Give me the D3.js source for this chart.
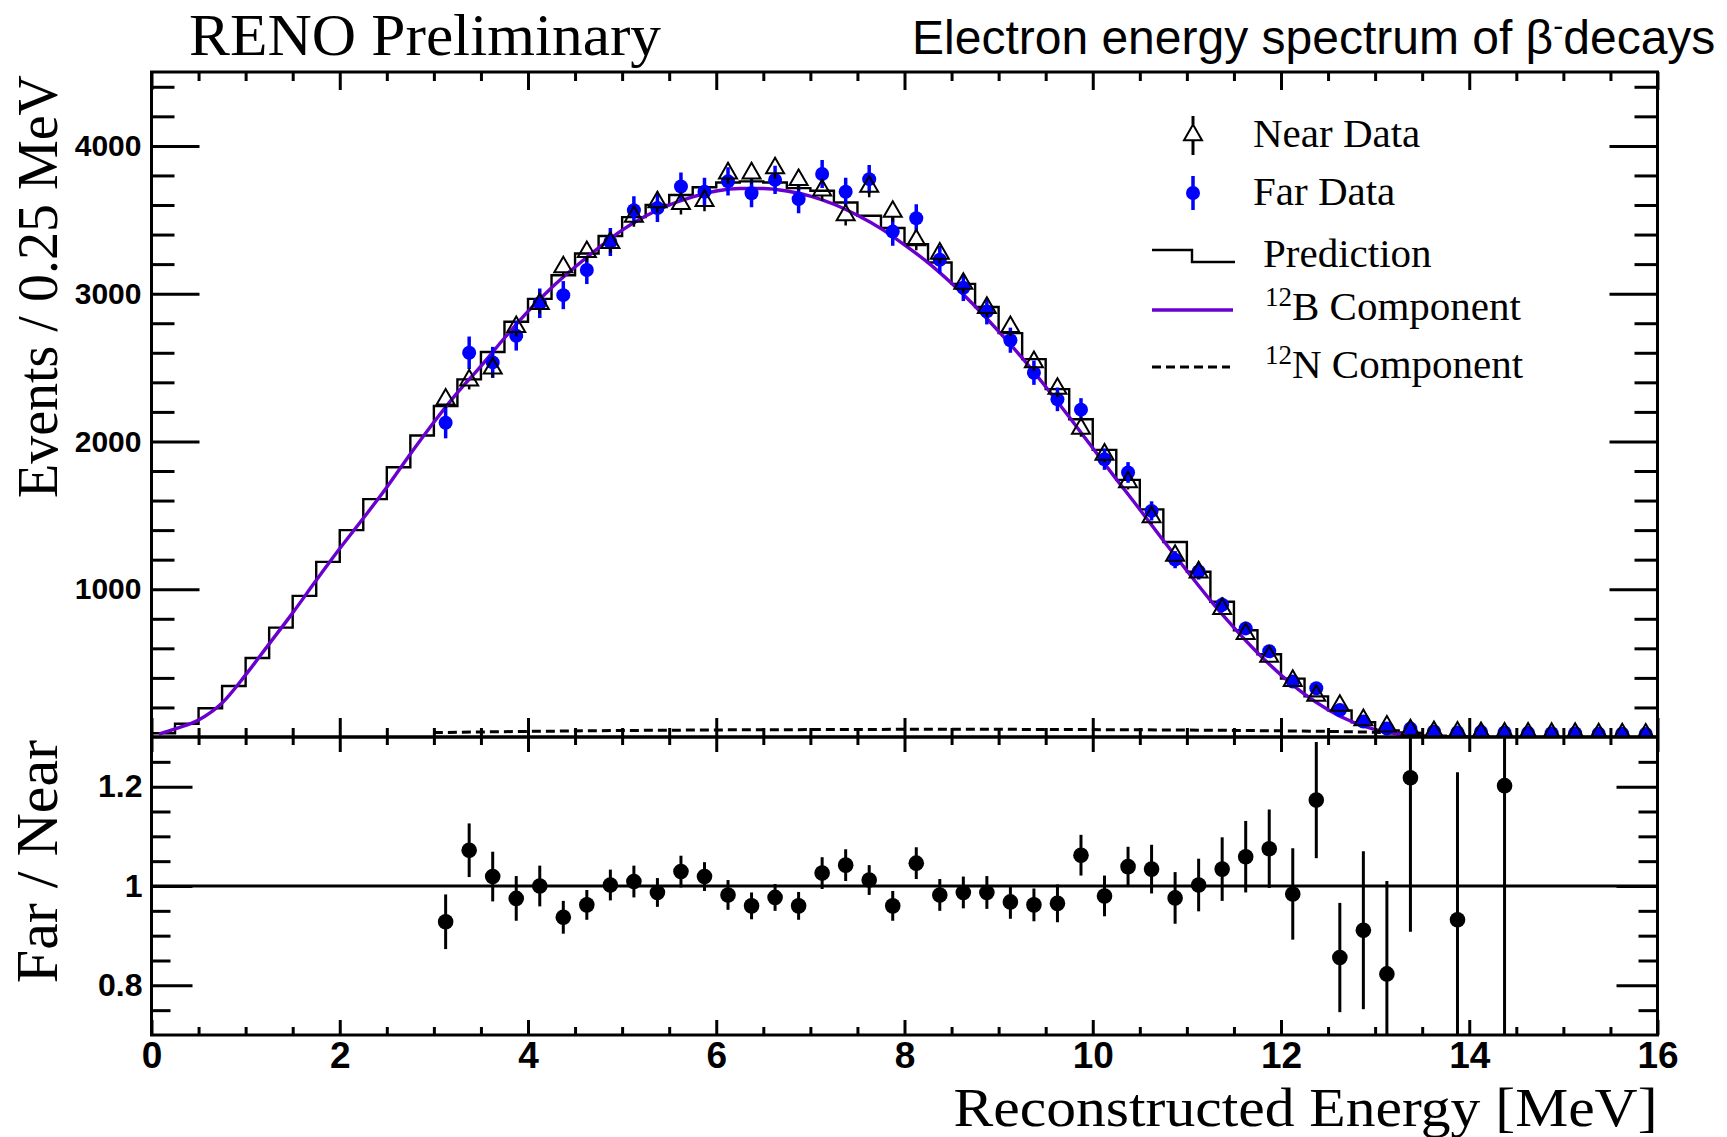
<!DOCTYPE html>
<html><head><meta charset="utf-8">
<script src="https://cdn.jsdelivr.net/npm/d3@7"></script>
<style>
body{margin:0;background:#fff;}
svg{display:block;background:#fff;}
</style></head><body>
<svg id="c" width="1727" height="1137"></svg>
<script>
// ---------------- DATA ----------------
const binWidth = 0.25; // MeV, prediction histogram bins from 0 to 16
const predValues = [25, 90, 195, 345, 535, 740, 955, 1185, 1400, 1610, 1825, 2040,
  2240, 2420, 2605, 2810, 2965, 3125, 3272, 3390, 3518, 3600, 3668, 3720,
  3752, 3760, 3752, 3714, 3696, 3617, 3527, 3444, 3335, 3211, 3066, 2910,
  2733, 2557, 2354, 2150, 1943, 1740, 1540, 1320, 1118, 915, 722, 560,
  395, 275, 180, 100, 45, 20, 8, 3, 1, 0, 0, 0, 0, 0, 0, 0];

const b12Energy = [0.08, 0.25, 0.5, 0.75, 1.0, 1.25, 1.5, 1.75, 2.0, 2.25, 2.5, 2.75, 3.0, 3.25, 3.5, 3.75,
  4.0, 4.25, 4.5, 4.75, 5.0, 5.25, 5.5, 5.75, 6.0, 6.25, 6.5, 6.75, 7.0, 7.25, 7.5, 7.75,
  8.0, 8.25, 8.5, 8.75, 9.0, 9.25, 9.5, 9.75, 10.0, 10.25, 10.5, 10.75, 11.0, 11.25, 11.5, 11.75,
  12.0, 12.25, 12.5, 12.75, 13.0, 13.25, 13.5, 13.75];
const b12Values = [20, 55, 115, 230, 420, 630, 840, 1060, 1275, 1480, 1690, 1915, 2130, 2330, 2510, 2700,
  2880, 3040, 3180, 3310, 3430, 3525, 3600, 3655, 3695, 3712, 3712, 3695, 3660, 3605, 3530, 3440,
  3330, 3210, 3070, 2915, 2745, 2565, 2370, 2165, 1955, 1745, 1540, 1330, 1125, 925, 740, 570,
  420, 290, 185, 105, 50, 20, 5, 0];

const n12Energy = [3.0, 4.0, 5.0, 6.0, 7.0, 8.0, 9.0, 10.0, 11.0, 12.0, 12.5, 13.0, 13.5];
const n12Values = [30, 38, 44, 48, 50, 52, 52, 50, 47, 42, 38, 32, 25];

const dataEnergy = [3.125, 3.375, 3.625, 3.875, 4.125, 4.375, 4.625, 4.875, 5.125, 5.375, 5.625, 5.875,
  6.125, 6.375, 6.625, 6.875, 7.125, 7.375, 7.625, 7.875, 8.125, 8.375, 8.625, 8.875,
  9.125, 9.375, 9.625, 9.875, 10.125, 10.375, 10.625, 10.875, 11.125, 11.375, 11.625, 11.875,
  12.125, 12.375, 12.625, 12.875, 13.125, 13.375, 13.625, 13.875, 14.125, 14.375, 14.625, 14.875,
  15.125, 15.375, 15.625, 15.875];
const nearValues = [2285, 2414, 2495, 2775, 2931, 3180, 3283, 3345, 3522, 3620, 3608, 3629,
  3815, 3815, 3850, 3770, 3700, 3532, 3725, 3555, 3362, 3272, 3068, 2905,
  2775, 2538, 2358, 2087, 1912, 1725, 1488, 1228, 1115, 867, 698, 544,
  381, 280, 212, 115, 72, 47, 35, 32, 28, 25, 25, 22,
  22, 20, 20, 18];
const nearErrors = [60, 62, 62, 64, 66, 68, 68, 70, 70, 72, 72, 72,
  72, 72, 72, 72, 72, 70, 72, 70, 68, 68, 66, 64,
  62, 60, 58, 55, 52, 50, 46, 42, 40, 36, 32, 28,
  24, 20, 18, 14, 10, 8, 7, 7, 6, 6, 6, 5,
  5, 5, 5, 5];
const farValues = [2126, 2600, 2535, 2715, 2935, 2990, 3160, 3350, 3565, 3580, 3725, 3690,
  3760, 3680, 3770, 3640, 3810, 3690, 3775, 3420, 3510, 3230, 3040, 2880,
  2685, 2465, 2285, 2215, 1880, 1790, 1530, 1200, 1120, 895, 735, 580,
  375, 330, 182, 105, 58, 57, 38, 30, 35, 30, 28, 25,
  25, 22, 22, 20];
const farErrors = [105, 110, 105, 100, 100, 95, 95, 95, 95, 95, 95, 95,
  95, 95, 95, 95, 95, 95, 95, 95, 95, 92, 90, 88,
  85, 82, 80, 78, 72, 70, 65, 58, 55, 50, 45, 40,
  33, 30, 24, 18, 14, 14, 12, 10, 11, 10, 10, 9,
  9, 8, 8, 8];

const ratioEnergy = [3.125, 3.375, 3.625, 3.875, 4.125, 4.375, 4.625, 4.875, 5.125, 5.375, 5.625, 5.875,
  6.125, 6.375, 6.625, 6.875, 7.125, 7.375, 7.625, 7.875, 8.125, 8.375, 8.625, 8.875,
  9.125, 9.375, 9.625, 9.875, 10.125, 10.375, 10.625, 10.875, 11.125, 11.375, 11.625, 11.875,
  12.125, 12.375, 12.625, 12.875, 13.125, 13.375, 13.875, 14.375];
const ratioValues = [0.928, 1.072, 1.019, 0.975, 1.000, 0.937, 0.962, 1.002, 1.009, 0.987, 1.029, 1.019,
  0.982, 0.960, 0.977, 0.960, 1.026, 1.042, 1.012, 0.960, 1.046, 0.982, 0.987, 0.987,
  0.968, 0.962, 0.965, 1.062, 0.980, 1.039, 1.034, 0.976, 1.002, 1.034, 1.059, 1.075,
  0.984, 1.173, 0.856, 0.911, 0.823, 1.218, 0.932, 1.202];
const ratioErrors = [0.055, 0.054, 0.050, 0.045, 0.041, 0.033, 0.030, 0.031, 0.032, 0.029, 0.032, 0.029,
  0.030, 0.027, 0.027, 0.028, 0.032, 0.032, 0.030, 0.030, 0.032, 0.032, 0.032, 0.033,
  0.034, 0.033, 0.038, 0.041, 0.041, 0.040, 0.049, 0.052, 0.053, 0.064, 0.072, 0.079,
  0.092, 0.117, 0.110, 0.159, 0.187, 0.310, 0.297, 0.600];

const xTickLabels = ["0", "2", "4", "6", "8", "10", "12", "14", "16"];
const yTopTickLabels = ["1000", "2000", "3000", "4000"];
const yBotTickLabels = ["0.8", "1", "1.2"];
const legendLabels = ["Near Data", "Far Data", "Prediction", "B Component", "N Component"];

// ---------------- LAYOUT ----------------
const L = 151.5, R = 1657.5, T = 72, M = 737, B = 1035;
const SERIF = "'Liberation Serif','Times New Roman',serif";
const SANS = "'Liberation Sans',Arial,sans-serif";
const PURPLE = "#6a00d0";
const BLUE = "#0000ff";

const svg = d3.select("#c");
const x = d3.scaleLinear().domain([0, 16]).range([L, R]);
const yT = d3.scaleLinear().domain([0, 4500]).range([M, T]);
const yB = d3.scaleLinear().domain([0.7, 1.3]).range([B, M]);

const defs = svg.append("defs");
defs.append("clipPath").attr("id", "clipTop").append("rect")
  .attr("x", L).attr("y", T).attr("width", R - L).attr("height", M - T);
defs.append("clipPath").attr("id", "clipBot").append("rect")
  .attr("x", L).attr("y", M).attr("width", R - L).attr("height", B - M);

// ---------------- TOP PANEL ----------------
const gTop = svg.append("g").attr("clip-path", "url(#clipTop)");

const predPts = predValues.map((v, i) => [i * binWidth, v]);
predPts.push([16, predValues[predValues.length - 1]]);
gTop.append("path")
  .attr("d", d3.line().x(d => x(d[0])).y(d => yT(d[1])).curve(d3.curveStepAfter)(predPts))
  .attr("fill", "none").attr("stroke", "#000").attr("stroke-width", 2.4);

gTop.append("path")
  .attr("d", d3.line().x((d, i) => x(n12Energy[i])).y(d => yT(d))(n12Values))
  .attr("fill", "none").attr("stroke", "#000").attr("stroke-width", 3)
  .attr("stroke-dasharray", "9,5");

gTop.append("path")
  .attr("d", d3.line().x((d, i) => x(b12Energy[i])).y(d => yT(d)).curve(d3.curveMonotoneX)(b12Values))
  .attr("fill", "none").attr("stroke", PURPLE).attr("stroke-width", 3.4);

// far data error bars + markers
gTop.selectAll("line.farErr").data(farValues).join("line").attr("class", "farErr")
  .attr("x1", (d, i) => x(dataEnergy[i])).attr("x2", (d, i) => x(dataEnergy[i]))
  .attr("y1", (d, i) => yT(d + farErrors[i])).attr("y2", (d, i) => yT(d - farErrors[i]))
  .attr("stroke", BLUE).attr("stroke-width", 3.5);
gTop.selectAll("circle.far").data(farValues).join("circle").attr("class", "far")
  .attr("cx", (d, i) => x(dataEnergy[i])).attr("cy", d => yT(d)).attr("r", 7)
  .attr("fill", BLUE);

// near data
const triSide = 18, triH = triSide * Math.sqrt(3) / 2;
const triArea = Math.sqrt(3) / 4 * triSide * triSide;
const triPath = d3.symbol().type(d3.symbolTriangle).size(triArea)();
nearValues.forEach((v, i) => {
  const cx = x(dataEnergy[i]), cy = yT(v);
  const top = yT(v + nearErrors[i]), bot = yT(v - nearErrors[i]);
  const apex = cy - triH * 2 / 3, base = cy + triH / 3;
  if (top < apex) gTop.append("line").attr("x1", cx).attr("x2", cx).attr("y1", top).attr("y2", apex)
    .attr("stroke", "#000").attr("stroke-width", 2.5);
  if (bot > base) gTop.append("line").attr("x1", cx).attr("x2", cx).attr("y1", base).attr("y2", bot)
    .attr("stroke", "#000").attr("stroke-width", 2.5);
});
gTop.selectAll("path.near").data(nearValues).join("path").attr("class", "near")
  .attr("d", triPath)
  .attr("transform", (d, i) => `translate(${x(dataEnergy[i])},${yT(d)})`)
  .attr("fill", "none").attr("stroke", "#000").attr("stroke-width", 2);

// ---------------- BOTTOM PANEL ----------------
const gBot = svg.append("g").attr("clip-path", "url(#clipBot)");
gBot.append("line").attr("x1", L).attr("x2", R).attr("y1", yB(1)).attr("y2", yB(1))
  .attr("stroke", "#000").attr("stroke-width", 3);
gBot.selectAll("line.rErr").data(ratioValues).join("line").attr("class", "rErr")
  .attr("x1", (d, i) => x(ratioEnergy[i])).attr("x2", (d, i) => x(ratioEnergy[i]))
  .attr("y1", (d, i) => yB(d + ratioErrors[i])).attr("y2", (d, i) => yB(d - ratioErrors[i]))
  .attr("stroke", "#000").attr("stroke-width", 3);
gBot.selectAll("circle.r").data(ratioValues).join("circle").attr("class", "r")
  .attr("cx", (d, i) => x(ratioEnergy[i])).attr("cy", d => yB(d)).attr("r", 7.8)
  .attr("fill", "#000");

// ---------------- AXES ----------------
function styleAxis(g, fontSize) {
  g.select(".domain").remove();
  g.selectAll(".tick line").attr("stroke", "#000").attr("stroke-width", 3);
  g.selectAll(".tick text").attr("fill", "#000").attr("font-family", SANS)
    .attr("font-weight", "bold").attr("font-size", fontSize);
}
function addAxis(axis, tx, ty, fontSize) {
  const g = svg.append("g").attr("transform", `translate(${tx},${ty})`).call(axis);
  styleAxis(g, fontSize || 10);
  return g;
}
const xMajor = xTickLabels.map(Number);
const xMinor = d3.range(0.5, 16, 0.5).filter(v => v % 2 !== 0);
const yTopMajor = yTopTickLabels.map(Number);
const yTopMinor = d3.range(200, 4500, 200).filter(v => v % 1000 !== 0);
const yBotMajor = yBotTickLabels.map(Number);
const yBotMinor = [0.75, 0.85, 0.9, 0.95, 1.05, 1.1, 1.15, 1.25];
const none = () => "";

// top panel
addAxis(d3.axisLeft(yT).tickValues(yTopMajor).tickSizeInner(-48).tickSizeOuter(0).tickPadding(10)
  .tickFormat((d, i) => yTopTickLabels[i]), L, 0, 30);
addAxis(d3.axisLeft(yT).tickValues(yTopMinor).tickSizeInner(-23).tickSizeOuter(0).tickFormat(none), L, 0);
addAxis(d3.axisRight(yT).tickValues(yTopMajor).tickSizeInner(-48).tickSizeOuter(0).tickFormat(none), R, 0);
addAxis(d3.axisRight(yT).tickValues(yTopMinor).tickSizeInner(-23).tickSizeOuter(0).tickFormat(none), R, 0);
addAxis(d3.axisTop(x).tickValues(xMajor).tickSizeInner(-18).tickSizeOuter(0).tickFormat(none), 0, T);
addAxis(d3.axisTop(x).tickValues(xMinor).tickSizeInner(-9).tickSizeOuter(0).tickFormat(none), 0, T);
addAxis(d3.axisBottom(x).tickValues(xMajor).tickSizeInner(-19).tickSizeOuter(0).tickFormat(none), 0, M);
addAxis(d3.axisBottom(x).tickValues(xMinor).tickSizeInner(-9).tickSizeOuter(0).tickFormat(none), 0, M);

// bottom panel
addAxis(d3.axisLeft(yB).tickValues(yBotMajor).tickSizeInner(-41).tickSizeOuter(0).tickPadding(9)
  .tickFormat((d, i) => yBotTickLabels[i]), L, 0, 32);
addAxis(d3.axisLeft(yB).tickValues(yBotMinor).tickSizeInner(-19).tickSizeOuter(0).tickFormat(none), L, 0);
addAxis(d3.axisRight(yB).tickValues(yBotMajor).tickSizeInner(-41).tickSizeOuter(0).tickFormat(none), R, 0);
addAxis(d3.axisRight(yB).tickValues(yBotMinor).tickSizeInner(-19).tickSizeOuter(0).tickFormat(none), R, 0);
addAxis(d3.axisTop(x).tickValues(xMajor).tickSizeInner(-15).tickSizeOuter(0).tickFormat(none), 0, M);
addAxis(d3.axisTop(x).tickValues(xMinor).tickSizeInner(-8).tickSizeOuter(0).tickFormat(none), 0, M);
addAxis(d3.axisBottom(x).tickValues(xMajor).tickSizeInner(-15).tickSizeOuter(0).tickPadding(7)
  .tickFormat((d, i) => xTickLabels[i]), 0, B, 37);
addAxis(d3.axisBottom(x).tickValues(xMinor).tickSizeInner(-8).tickSizeOuter(0).tickFormat(none), 0, B);

// frames
svg.append("rect").attr("x", L).attr("y", T).attr("width", R - L).attr("height", M - T)
  .attr("fill", "none").attr("stroke", "#000").attr("stroke-width", 3);
svg.append("rect").attr("x", L).attr("y", M).attr("width", R - L).attr("height", B - M)
  .attr("fill", "none").attr("stroke", "#000").attr("stroke-width", 3);

// ---------------- TEXTS ----------------
svg.append("text").attr("x", 189).attr("y", 55).attr("font-family", SERIF).attr("font-size", 59)
  .attr("textLength", 472).attr("lengthAdjust", "spacingAndGlyphs")
  .attr("fill", "#000").text("RENO Preliminary");

const title = svg.append("text").attr("x", 912).attr("y", 54).attr("font-family", SANS)
  .attr("font-size", 48).attr("fill", "#000");
title.append("tspan").text("Electron energy spectrum of β");
title.append("tspan").attr("font-size", 30).attr("dy", -18).text("-");
title.append("tspan").attr("dy", 18).text("decays");

svg.append("text").attr("transform", "translate(57,75) rotate(-90)").attr("text-anchor", "end")
  .attr("font-family", SERIF).attr("font-size", 56).attr("fill", "#000").text("Events / 0.25 MeV");
svg.append("text").attr("transform", "translate(57,740) rotate(-90)").attr("text-anchor", "end")
  .attr("font-family", SERIF).attr("font-size", 60).attr("fill", "#000").text("Far / Near");
svg.append("text").attr("x", R).attr("y", 1126).attr("text-anchor", "end")
  .attr("font-family", SERIF).attr("font-size", 55)
  .attr("textLength", 704).attr("lengthAdjust", "spacingAndGlyphs")
  .attr("fill", "#000").text("Reconstructed Energy [MeV]");

// ---------------- LEGEND ----------------
const lg = svg.append("g");
// near data
lg.append("line").attr("x1", 1193).attr("x2", 1193).attr("y1", 116).attr("y2", 135 - triH * 2 / 3)
  .attr("stroke", "#000").attr("stroke-width", 3);
lg.append("line").attr("x1", 1193).attr("x2", 1193).attr("y1", 135 + triH / 3).attr("y2", 155)
  .attr("stroke", "#000").attr("stroke-width", 3);
lg.append("path").attr("d", triPath).attr("transform", "translate(1193,135)")
  .attr("fill", "none").attr("stroke", "#000").attr("stroke-width", 2);
// far data
lg.append("line").attr("x1", 1193).attr("x2", 1193).attr("y1", 176).attr("y2", 210)
  .attr("stroke", BLUE).attr("stroke-width", 3.5);
lg.append("circle").attr("cx", 1193).attr("cy", 193).attr("r", 7).attr("fill", BLUE);
// prediction
lg.append("path").attr("d", "M1152,250 H1192 V262 H1235").attr("fill", "none")
  .attr("stroke", "#000").attr("stroke-width", 2.4);
// 12B
lg.append("line").attr("x1", 1152).attr("x2", 1233).attr("y1", 310).attr("y2", 310)
  .attr("stroke", PURPLE).attr("stroke-width", 3.4);
// 12N
lg.append("line").attr("x1", 1152).attr("x2", 1230).attr("y1", 367).attr("y2", 367)
  .attr("stroke", "#000").attr("stroke-width", 3).attr("stroke-dasharray", "9,5");

const lgText = (xx, yy) => lg.append("text").attr("x", xx).attr("y", yy)
  .attr("font-family", SERIF).attr("font-size", 41).attr("fill", "#000");
lgText(1253, 147).text(legendLabels[0]);
lgText(1253, 205).text(legendLabels[1]);
lgText(1263, 267).text(legendLabels[2]);
const tB = lgText(1265, 320);
tB.append("tspan").attr("font-size", 27).attr("dy", -14).text("12");
tB.append("tspan").attr("dy", 14).text(legendLabels[3]);
const tN = lgText(1265, 378);
tN.append("tspan").attr("font-size", 27).attr("dy", -14).text("12");
tN.append("tspan").attr("dy", 14).text(legendLabels[4]);
</script>
</body></html>
